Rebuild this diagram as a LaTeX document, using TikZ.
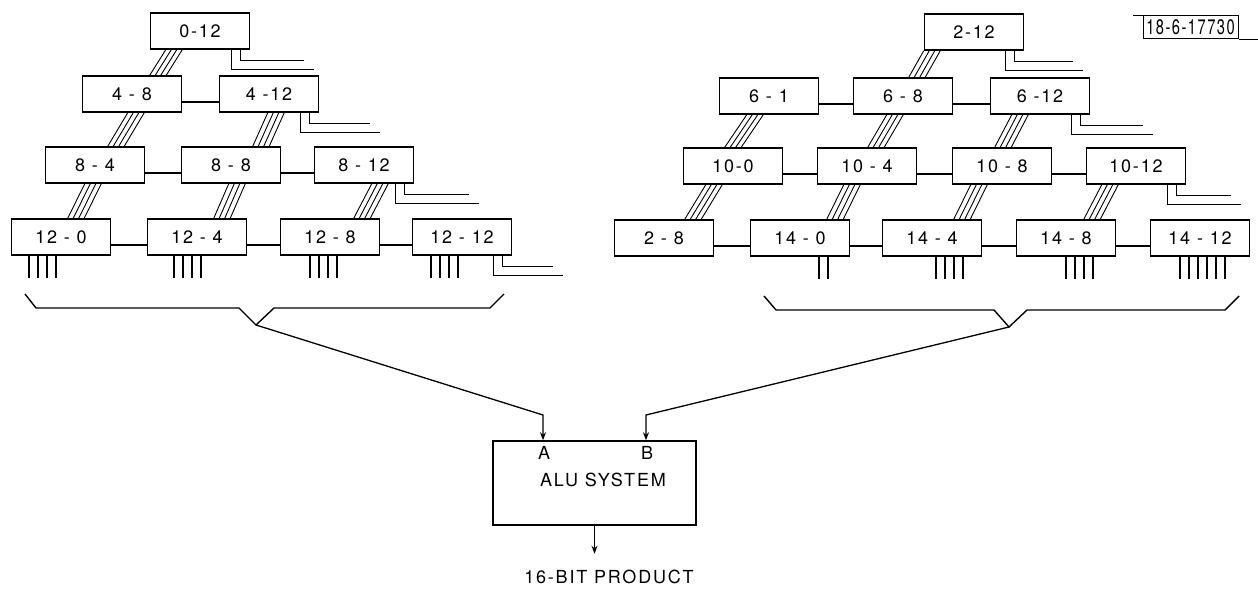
\documentclass[tikz,border=0pt]{standalone}
\usepackage{fontspec}
\setmainfont[LetterSpace=10]{TeX Gyre Heros}
\usepackage{graphicx}
\usetikzlibrary{arrows.meta,calc}
\tikzset{
    stage/.style={draw,line width=1.5pt,minimum width=99pt,minimum height=36pt,inner sep=0pt,font=\fontsize{18}{20}\selectfont},
    busline/.style={line width=0.9pt},
    linkline/.style={line width=1.3pt},
    tapline/.style={line width=1.1pt},
    pinline/.style={line width=1.2pt},
    braceline/.style={line width=1.4pt},
    feedline/.style={line width=1.3pt},
    alubox/.style={draw,line width=1.5pt,minimum width=203pt,minimum height=84pt,inner sep=0pt},
    caption/.style={font=\fontsize{18}{20}\selectfont},
    stampbox/.style={draw,line width=1pt,minimum width=95pt,minimum height=23pt,inner sep=0pt}
}

\begin{document}
\begin{tikzpicture}[x=1pt,y=-1pt,>={Stealth[length=8pt,width=6pt]}]
    \useasboundingbox (0,0) rectangle (1258,591);
    % Left array
    \node[stage] (a0x12) at (200,31) {0-12};
    \node[stage] (a4x8) at (132,94) {4 - 8};
    \node[stage] (a4x12) at (269,94) {4 -12};
    \node[stage] (a8x4) at (95,165) {8 - 4};
    \node[stage] (a8x8) at (231,165) {8 - 8};
    \node[stage] (a8x12) at (364,165) {8 - 12};
    \node[stage] (a12x0) at (61,237) {12 - 0};
    \node[stage] (a12x4) at (197,237) {12 - 4};
    \node[stage] (a12x8) at (330,237) {12 - 8};
    \node[stage] (a12x12) at (462,237) {12 - 12};
    % Right array
    \node[stage] (b2x12) at (974,32) {2-12};
    \node[stage] (b6x1) at (769,96) {6 - 1};
    \node[stage] (b6x8) at (903,96) {6 - 8};
    \node[stage] (b6x12) at (1040,96) {6 -12};
    \node[stage] (b10x0) at (733,166) {10-0};
    \node[stage] (b10x4) at (867,166) {10 - 4};
    \node[stage] (b10x8) at (1002,166) {10 - 8};
    \node[stage] (b10x12) at (1136,166) {10-12};
    \node[stage] (b2x8) at (664,238) {2 - 8};
    \node[stage] (b14x0) at (800,238) {14 - 0};
    \node[stage] (b14x4) at (932,238) {14 - 4};
    \node[stage] (b14x8) at (1066,238) {14 - 8};
    \node[stage] (b14x12) at (1200,238) {14 - 12};
    % Row links
    \foreach \p/\q in {a4x8/a4x12,a8x4/a8x8,a8x8/a8x12,a12x0/a12x4,a12x4/a12x8,a12x8/a12x12,
                       b6x1/b6x8,b6x8/b6x12,b10x0/b10x4,b10x4/b10x8,b10x8/b10x12,
                       b2x8/b14x0,b14x0/b14x4,b14x4/b14x8,b14x8/b14x12}
        \draw[linkline] ($(\p.east)+(0,8)$) -- ($(\q.west)+(0,8)$);
    % Busses between rows
    \foreach \u/\du/\l/\dl in {a0x12/-26/a4x8/26,a4x8/4/a8x4/21,a4x12/7/a8x8/30,
                               a8x4/-2/a12x0/15,a8x8/6/a12x4/25,a8x12/16/a12x8/32,
                               b2x12/-42/b6x8/14,b6x1/-14/b10x0/0,b6x8/-8/b10x4/9,b6x12/-20/b10x8/1,
                               b10x0/-19/b2x8/29,b10x4/-15/b14x0/35,b10x8/-23/b14x4/30,b10x12/-26/b14x8/26}
        \foreach \k in {-1.5,-0.5,0.5,1.5}
            \draw[busline] ($(\u.south)+({\du+(\k)*5.5},0)$) -- ($(\l.north)+({\dl+(\k)*5.5},0)$);
    % Side outputs
    \foreach \n/\e in {a0x12/54,a4x12/51,a8x12/55,a12x12/41,b2x12/49,b6x12/53,b10x12/45} {
        \draw[tapline] ($(\n.south east)+(-10,0)$) -- ++(0,11) -- ++({\e+10},0);
        \draw[tapline] ($(\n.south east)+(-19,0)$) -- ++(0,20) -- ++({\e+29},0);
    }
    % Bottom outputs
    \foreach \n/\o/\c in {a12x0/-32/4,a12x4/-23/4,a12x8/-20/4,a12x12/-31/4,
                          b14x0/19/2,b14x4/4/4,b14x8/0/4,b14x12/-20/6}
        \foreach \k in {1,...,\c}
            \draw[pinline] ($(\n.south)+({\o+(\k-1)*9},0)$) -- ++(0,22);
    % Collecting brackets
    \coordinate (apexL) at (256,325);
    \coordinate (apexR) at (1009,327);
    \draw[braceline] (25,294) -- (36,308) -- (239,308) -- (apexL) -- (274,308) -- (490,308) -- (504,294);
    \draw[braceline] (764,296) -- (776,310) -- (994,310) -- (apexR) -- (1027,310) -- (1225,310) -- (1239,296);
    % ALU
    \node[alubox] (alu) at (594.5,483) {};
    \node[caption] (lblA) at (544,453) {A};
    \node[caption] (lblB) at (647,453) {B};
    \node[caption] (aluname) at (603,480) {ALU SYSTEM};
    \node[caption] (product) at (609,577) {16-BIT PRODUCT};
    \coordinate (kneeA) at (543,415);
    \coordinate (kneeB) at (646,415);
    \draw[feedline,->] (apexL) -- (kneeA) -- (kneeA |- alu.north);
    \draw[feedline,->] (apexR) -- (kneeB) -- (kneeB |- alu.north);
    \draw[feedline,->] (alu.south) -- ++(0,28);
    % Drawing number
    \node[stampbox] (stamp) at (1190.5,27.5) {\scalebox{0.7}[1]{\fontsize{21}{22}\selectfont 18-6-17730}};
    \draw[line width=1pt] (stamp.north west) -- ++(-10,0);
    \draw[line width=1pt] (stamp.south east) -- ++(19,0);
\end{tikzpicture}
\end{document}
